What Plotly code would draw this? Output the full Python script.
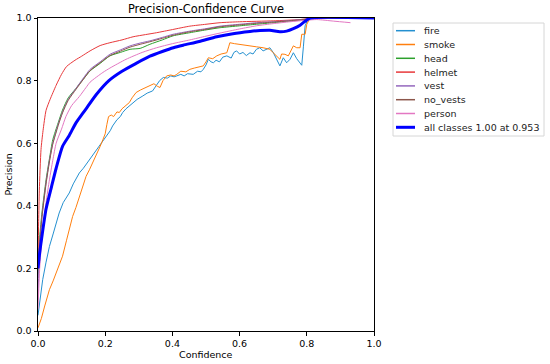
import plotly.graph_objects as go

# ---------------- data ----------------
series_names = ["fire", "smoke", "head", "helmet", "vest", "no_vests", "person", "all classes 1.00 at 0.953"]

fire_conf = [0, 0.002, 0.008, 0.014, 0.024, 0.034, 0.045, 0.055, 0.063, 0.075, 0.085, 0.093, 0.105, 0.115,
             0.123, 0.135, 0.145, 0.153, 0.165, 0.175, 0.183, 0.195, 0.202, 0.215, 0.222, 0.235, 0.245, 0.252,
             0.262, 0.272, 0.282, 0.295, 0.312, 0.325, 0.341, 0.35, 0.362, 0.373, 0.385, 0.395, 0.405, 0.413,
             0.425, 0.435, 0.445, 0.462, 0.475, 0.485, 0.492, 0.5, 0.507, 0.515, 0.522, 0.53, 0.54, 0.55, 0.562,
             0.575, 0.583, 0.591, 0.6, 0.61, 0.62, 0.631, 0.64, 0.65, 0.66, 0.67, 0.68, 0.69, 0.7, 0.71, 0.715,
             0.72, 0.73, 0.74, 0.75, 0.755, 0.76, 0.77, 0.785, 0.79, 0.795, 0.805, 1.0]
fire_prec = [0.05, 0.069, 0.12, 0.164, 0.22, 0.27, 0.31, 0.35, 0.377, 0.41, 0.425, 0.441, 0.47, 0.49,
             0.505, 0.52, 0.535, 0.547, 0.565, 0.58, 0.595, 0.61, 0.62, 0.64, 0.655, 0.675, 0.685, 0.698,
             0.71, 0.72, 0.73, 0.74, 0.751, 0.76, 0.767, 0.78, 0.8, 0.81, 0.808, 0.815, 0.812, 0.815,
             0.82, 0.815, 0.822, 0.82, 0.83, 0.828, 0.836, 0.85, 0.868, 0.86, 0.857, 0.865, 0.86, 0.875, 0.879,
             0.872, 0.89, 0.895, 0.885, 0.89, 0.88, 0.889, 0.885, 0.9, 0.905, 0.895, 0.9, 0.905, 0.89, 0.868, 0.855,
             0.847, 0.873, 0.857, 0.868, 0.88, 0.889, 0.87, 0.849, 0.91, 0.975, 1.0, 1.0]

smoke_conf = [0, 0.002, 0.01, 0.02, 0.034, 0.045, 0.055, 0.065, 0.073, 0.085, 0.095, 0.103, 0.113, 0.123,
              0.133, 0.143, 0.153, 0.163, 0.175, 0.185, 0.193, 0.2, 0.205, 0.21, 0.218, 0.225, 0.235, 0.242,
              0.25, 0.26, 0.272, 0.28, 0.292, 0.305, 0.315, 0.331, 0.345, 0.355, 0.363, 0.372, 0.383, 0.395,
              0.405, 0.413, 0.425, 0.44, 0.452, 0.465, 0.48, 0.492, 0.5, 0.507, 0.52, 0.532, 0.545, 0.562, 0.568,
              0.571, 0.585, 0.601, 0.615, 0.631, 0.65, 0.67, 0.69, 0.7, 0.71, 0.72, 0.725, 0.735, 0.745, 0.75,
              0.76, 0.77, 0.78, 0.785, 0.795, 0.8, 0.81, 1.0]
smoke_prec = [0.01, 0.015, 0.04, 0.08, 0.132, 0.16, 0.19, 0.215, 0.239, 0.29, 0.33, 0.366, 0.395, 0.43,
              0.465, 0.494, 0.515, 0.537, 0.565, 0.59, 0.611, 0.63, 0.66, 0.685, 0.69, 0.685, 0.7, 0.698,
              0.71, 0.72, 0.73, 0.745, 0.762, 0.77, 0.775, 0.783, 0.79, 0.782, 0.778, 0.8, 0.815, 0.818,
              0.815, 0.82, 0.83, 0.828, 0.836, 0.84, 0.845, 0.847, 0.86, 0.873, 0.87, 0.879, 0.885, 0.889, 0.91,
              0.921, 0.918, 0.916, 0.913, 0.911, 0.908, 0.905, 0.9, 0.889, 0.878, 0.868, 0.885, 0.884, 0.879, 0.89,
              0.911, 0.905, 0.905, 0.948, 0.948, 0.98, 1.0, 1.0]

head_conf = [0, 0.005, 0.012, 0.024, 0.034, 0.044, 0.06, 0.073, 0.09, 0.113, 0.135, 0.155, 0.185, 0.214,
             0.245, 0.274, 0.304, 0.333, 0.37, 0.402, 0.452, 0.5, 0.542, 0.6, 0.65, 0.7, 0.75, 0.8, 0.83, 1.0]
head_prec = [0.18, 0.3, 0.38, 0.483, 0.55, 0.611, 0.665, 0.706, 0.745, 0.775, 0.805, 0.831, 0.855, 0.879,
             0.89, 0.9, 0.903, 0.916, 0.93, 0.943, 0.953, 0.962, 0.969, 0.975, 0.98, 0.985, 0.99, 0.996, 1.0, 1.0]

helmet_conf = [0, 0.002, 0.004, 0.009, 0.015, 0.024, 0.036, 0.054, 0.07, 0.085, 0.11, 0.13, 0.155, 0.185,
               0.214, 0.25, 0.283, 0.32, 0.353, 0.4, 0.452, 0.5, 0.542, 0.6, 0.7, 0.78, 0.82, 1.0]
helmet_prec = [0.22, 0.35, 0.45, 0.58, 0.64, 0.705, 0.74, 0.785, 0.82, 0.845, 0.865, 0.878, 0.895, 0.912,
               0.921, 0.93, 0.94, 0.947, 0.953, 0.963, 0.974, 0.98, 0.985, 0.988, 0.991, 0.995, 1.0, 1.0]

vest_conf = [0, 0.005, 0.012, 0.024, 0.034, 0.044, 0.06, 0.073, 0.09, 0.113, 0.135, 0.155, 0.185, 0.214,
             0.245, 0.274, 0.304, 0.333, 0.37, 0.402, 0.452, 0.5, 0.542, 0.6, 0.65, 0.7, 0.75, 0.8, 0.83, 1.0]
vest_prec = [0.1, 0.28, 0.37, 0.475, 0.545, 0.6, 0.66, 0.7, 0.74, 0.775, 0.808, 0.836, 0.86, 0.884,
             0.898, 0.911, 0.92, 0.927, 0.938, 0.948, 0.958, 0.966, 0.974, 0.98, 0.985, 0.988, 0.992, 0.997, 1.0, 1.0]

novest_conf = [0, 0.005, 0.012, 0.024, 0.034, 0.044, 0.06, 0.073, 0.09, 0.113, 0.135, 0.155, 0.185, 0.214,
               0.245, 0.274, 0.304, 0.333, 0.37, 0.402, 0.452, 0.5, 0.542, 0.6, 0.65, 0.7, 0.75, 0.8, 0.83, 1.0]
novest_prec = [0.2, 0.27, 0.365, 0.47, 0.54, 0.597, 0.656, 0.697, 0.737, 0.772, 0.804, 0.832, 0.857, 0.88,
               0.894, 0.907, 0.916, 0.924, 0.935, 0.945, 0.956, 0.964, 0.972, 0.978, 0.983, 0.987, 0.991, 0.996, 1.0, 1.0]

person_conf = [0, 0.005, 0.012, 0.024, 0.034, 0.044, 0.054, 0.07, 0.083, 0.1, 0.123, 0.143, 0.155, 0.193,
               0.214, 0.262, 0.31, 0.353, 0.4, 0.452, 0.5, 0.542, 0.6, 0.65, 0.7, 0.75, 0.8, 0.83, 0.88, 0.93]
person_prec = [0.07, 0.2, 0.3, 0.41, 0.483, 0.545, 0.6, 0.645, 0.685, 0.72, 0.749, 0.778, 0.795, 0.826,
               0.84, 0.868, 0.89, 0.905, 0.918, 0.93, 0.942, 0.952, 0.965, 0.975, 0.982, 0.988, 0.993, 0.995, 0.99, 0.985]

all_conf = [0, 0.005, 0.01, 0.024, 0.04, 0.054, 0.073, 0.093, 0.113, 0.133, 0.143, 0.173, 0.211, 0.25,
            0.292, 0.333, 0.37, 0.403, 0.432, 0.48, 0.532, 0.58, 0.631, 0.661, 0.69, 0.72, 0.74, 0.76, 0.78,
            0.8, 0.81, 1.0]
all_prec = [0.2, 0.25, 0.29, 0.39, 0.46, 0.52, 0.59, 0.625, 0.665, 0.695, 0.71, 0.755, 0.8, 0.83,
            0.855, 0.878, 0.893, 0.905, 0.913, 0.925, 0.94, 0.95, 0.957, 0.96, 0.961, 0.956, 0.958, 0.966, 0.977,
            0.994, 1.0, 1.0]

xs = [fire_conf, smoke_conf, head_conf, helmet_conf, vest_conf, novest_conf, person_conf, all_conf]
ys = [fire_prec, smoke_prec, head_prec, helmet_prec, vest_prec, novest_prec, person_prec, all_prec]
colors = ["#2490d0", "#ff7f0e", "#2ca02c", "#e8383a", "#9467bd", "#8c564b", "#e377c2", "#0000ff"]
widths = [1, 1, 1, 1, 1, 1, 1, 3]
smooth = [False, False, True, True, True, True, True, True]

tick_vals = [0.0, 0.2, 0.4, 0.6, 0.8, 1.0]
tick_text = ["0.0", "0.2", "0.4", "0.6", "0.8", "1.0"]

# ---------------- figure ----------------
W, H = 550, 364
L, R, T, B = 38, 374, 18, 331  # plot area in pixels

fig = go.Figure()
for name, x, y, c, w, s in zip(series_names, xs, ys, colors, widths, smooth):
    line = dict(color=c, width=w)
    if s:
        line.update(shape="spline", smoothing=0.6)
    fig.add_trace(go.Scatter(x=x, y=y, mode="lines", name=name,
                             line=line, showlegend=False, hoverinfo="skip"))

FONT = "DejaVu Sans"

def px_x(p):
    return (p - L) / (R - L)

def px_y(p):
    return (B - p) / (B - T)

shapes = []
annotations = []
# legend box (matplotlib-style)
shapes.append(dict(type="rect", xref="paper", yref="paper",
                   x0=px_x(393), x1=px_x(544), y0=px_y(136), y1=px_y(23),
                   line=dict(color="#d6d6d6", width=1), fillcolor="rgba(255,255,255,0.8)", layer="above"))
row0, step = 30.7, 13.8
for i, (name, c, w) in enumerate(zip(series_names, colors, widths)):
    yy = row0 + i * step
    shapes.append(dict(type="line", xref="paper", yref="paper",
                       x0=px_x(396), x1=px_x(415), y0=px_y(yy), y1=px_y(yy),
                       line=dict(color=c, width=w + 0.5 if w == 1 else w), layer="above"))
    annotations.append(dict(text=name, xref="paper", yref="paper", x=px_x(422), y=px_y(yy),
                            xanchor="left", yanchor="middle", showarrow=False,
                            font=dict(family=FONT, size=9.5, color="#222")))

# axis titles
annotations.append(dict(text="Confidence", xref="paper", yref="paper", x=0.5, y=px_y(354),
                        xanchor="center", yanchor="middle", showarrow=False,
                        font=dict(family=FONT, size=9.5, color="black")))
annotations.append(dict(text="Precision", xref="paper", yref="paper", x=px_x(8), y=0.5,
                        xanchor="center", yanchor="middle", showarrow=False, textangle=-90,
                        font=dict(family=FONT, size=9.5, color="black")))

axis_common = dict(range=[0, 1], showgrid=False, zeroline=False, showline=True, mirror=True,
                   linecolor="black", linewidth=1, ticks="outside", ticklen=3.5, tickwidth=0.8,
                   tickcolor="black", tickvals=tick_vals, ticktext=tick_text,
                   tickfont=dict(family=FONT, size=9.5, color="black"))

fig.update_layout(
    width=W, height=H,
    margin=dict(l=L, r=W - R, t=T, b=H - B, pad=0),
    paper_bgcolor="white", plot_bgcolor="white",
    title=dict(text="Precision-Confidence Curve", x=(L + R) / 2 / W, xref="container",
               xanchor="center", y=1 - 9.5 / H, yref="container", yanchor="middle",
               font=dict(family=FONT, size=11.4, color="black")),
    xaxis=dict(**axis_common),
    yaxis=dict(**axis_common),
    shapes=shapes, annotations=annotations,
    showlegend=False,
)

fig.write_html("out.html", config={"displayModeBar": False},
               post_script="document.body.style.margin='0';document.body.style.overflow='hidden';")
